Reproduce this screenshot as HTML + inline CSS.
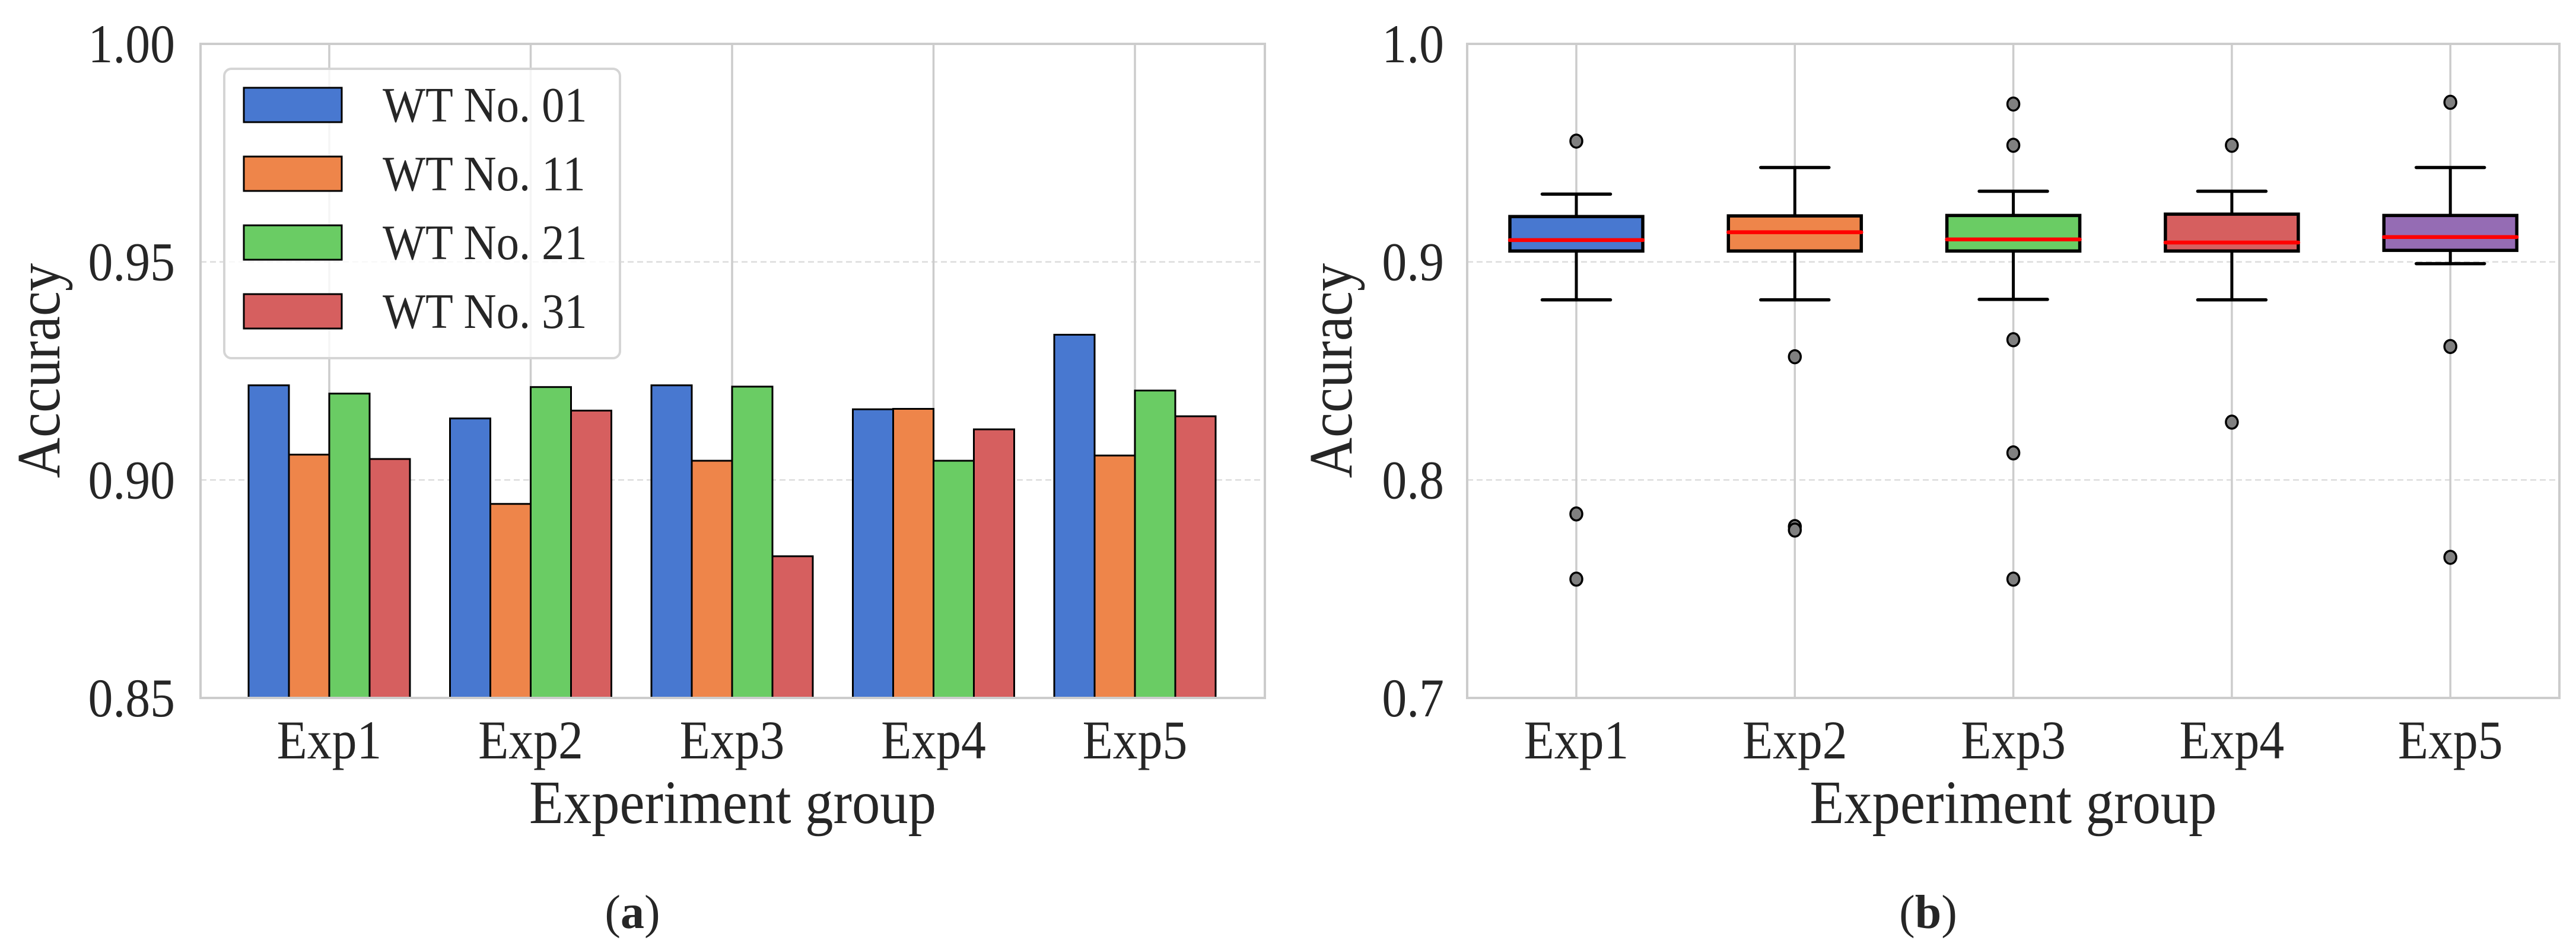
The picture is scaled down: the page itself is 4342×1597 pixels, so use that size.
<!DOCTYPE html>
<html><head><meta charset="utf-8"><style>
html,body{margin:0;padding:0;background:#fff;}
svg{display:block;}
text{font-family:"Liberation Serif",serif;fill:#262626;}
</style></head><body>
<svg id="fig" width="4342" height="1597" viewBox="0 0 4342 1597" xmlns="http://www.w3.org/2000/svg">
<g id="pa"></g>
<g id="pb"></g>
</svg>
<script>
// ---- Panel (a) data ----
const categories = ["Exp1","Exp2","Exp3","Exp4","Exp5"];
const seriesNames = ["WT No. 01","WT No. 11","WT No. 21","WT No. 31"];
const wt01 = [0.9217,0.9141,0.9217,0.9162,0.9333];
const wt11 = [0.9058,0.8945,0.9044,0.9163,0.9056];
const wt21 = [0.9198,0.9213,0.9214,0.9044,0.9205];
const wt31 = [0.9048,0.9159,0.8825,0.9116,0.9146];
const barTicks = [0.85,0.90,0.95,1.00];
const barTickLabels = ["0.85","0.90","0.95","1.00"];
// ---- Panel (b) data ----
const boxQ1 = [0.9050,0.9050,0.9050,0.9050,0.9053];
const boxQ3 = [0.9208,0.9211,0.9213,0.9219,0.9213];
const boxMedian = [0.9100,0.9136,0.9103,0.9089,0.9114];
const whiskerLow = [0.8826,0.8826,0.8828,0.8826,0.8992];
const whiskerHigh = [0.9311,0.9433,0.9324,0.9324,0.9433];
const fliers1 = [0.9554,0.7844,0.7545];
const fliers2 = [0.8565,0.7786,0.7770];
const fliers3 = [0.9724,0.9535,0.8643,0.8124,0.7545];
const fliers4 = [0.9535,0.8265];
const fliers5 = [0.9732,0.8612,0.7645];
const boxTicks = [0.7,0.8,0.9,1.0];
const boxTickLabels = ["0.7","0.8","0.9","1.0"];

const NS="http://www.w3.org/2000/svg";
function mk(parent,tag,attrs,txt){const e=document.createElementNS(NS,tag);for(const k in attrs)e.setAttribute(k,attrs[k]);if(txt!==undefined)e.textContent=txt;parent.appendChild(e);return e;}
function tx(parent,x,y,size,anchor,txt,rot){
 const a={x:0,y:0,'font-size':size,'text-anchor':anchor,transform:'translate('+x+','+y+')'+(rot?' rotate(-90)':'')+' scale(0.91,1)'};
 return mk(parent,'text',a,txt);
}
const colors=["#4878d0","#ee854a","#6acc64","#d65f5f","#956cb4"];
const TOP=74,BOT=1177;

// ===== Panel A =====
const pa=document.getElementById('pa');
const aL=338,aR=2132;
const yA=v=>BOT-(v-0.85)/0.15*(BOT-TOP);
const xA=i=>555+i*339.5;
const bw=68;
barTicks.forEach((t,i)=>{
 if(i>0&&i<barTicks.length-1){const g=mk(pa,'line',{x1:aL,x2:aR,y1:yA(t),y2:yA(t),stroke:'#dcdcdc','stroke-width':2.5,'stroke-dasharray':'10,6'});
 
 }
 const l=tx(pa,295,yA(t)+31,92,'end',barTickLabels[i]);
 
 
});
categories.forEach((c,i)=>{
 const g=mk(pa,'line',{x1:xA(i),x2:xA(i),y1:TOP,y2:BOT,stroke:'#cccccc','stroke-width':3.5});
 
 
 const l=tx(pa,xA(i),1279,92,'middle',c);
 
 
});
const series=[wt01,wt11,wt21,wt31];
series.forEach((s,j)=>{
 s.forEach((v,i)=>{
  const x=xA(i)+(j-2)*bw;
  const r=mk(pa,'rect',{x:x,y:yA(v),width:bw,height:BOT-yA(v),fill:colors[j],stroke:'#000','stroke-width':3});
  
  
 });
});
{const sp=mk(pa,'rect',{x:aL,y:TOP,width:aR-aL,height:BOT-TOP,fill:'none',stroke:'#cccccc','stroke-width':4});

}
{const lg=mk(pa,'g',{});


mk(lg,'rect',{x:378,y:116,width:667,height:488,rx:12,fill:'rgba(255,255,255,0.8)',stroke:'#d5d5d5','stroke-width':4});
seriesNames.forEach((n,j)=>{
 const cy=177+j*116;
 const p=mk(lg,'rect',{x:411,y:cy-29,width:165,height:58,fill:colors[j],stroke:'#000','stroke-width':3});
 
 
 const t=tx(lg,645,cy+28,84,'start',n);
 
 
});}
{const t=tx(pa,(aL+aR)/2,1388,104,'middle','Experiment group');


const y=tx(pa,100,625,104,'middle','Accuracy',true);


const c=mk(pa,'text',{x:1066,y:1565,'font-size':80,'text-anchor':'middle'});


c.innerHTML='(<tspan font-weight="bold">a</tspan>)';}

// ===== Panel B =====
const pb=document.getElementById('pb');
const bL=2473,bR=4314;
const yB=v=>BOT-(v-0.7)/0.3*(BOT-TOP);
const xB=i=>2657+i*368.3;
boxTicks.forEach((t,i)=>{
 if(i>0&&i<boxTicks.length-1){const g=mk(pb,'line',{x1:bL,x2:bR,y1:yB(t),y2:yB(t),stroke:'#dcdcdc','stroke-width':2.5,'stroke-dasharray':'10,6'});
 
 }
 const l=tx(pb,2434,yB(t)+31,92,'end',boxTickLabels[i]);
 
 
});
categories.forEach((c,i)=>{
 const g=mk(pb,'line',{x1:xB(i),x2:xB(i),y1:TOP,y2:BOT,stroke:'#cccccc','stroke-width':3.5});
 
 
 const l=tx(pb,xB(i),1279,92,'middle',c);
 
 
});
const fliers=[fliers1,fliers2,fliers3,fliers4,fliers5];
const boxW=224,capW=115;
categories.forEach((c,i)=>{
 const cx=xB(i);
 const g=mk(pb,'g',{});
 
 
 mk(g,'line',{x1:cx,x2:cx,y1:yB(boxQ3[i]),y2:yB(whiskerHigh[i]),stroke:'#000','stroke-width':5});
 mk(g,'line',{x1:cx,x2:cx,y1:yB(boxQ1[i]),y2:yB(whiskerLow[i]),stroke:'#000','stroke-width':5});
 mk(g,'line',{x1:cx-capW/2,x2:cx+capW/2,y1:yB(whiskerHigh[i]),y2:yB(whiskerHigh[i]),stroke:'#000','stroke-width':5.5,'stroke-linecap':'round'});
 mk(g,'line',{x1:cx-capW/2,x2:cx+capW/2,y1:yB(whiskerLow[i]),y2:yB(whiskerLow[i]),stroke:'#000','stroke-width':5.5,'stroke-linecap':'round'});
 mk(g,'rect',{x:cx-boxW/2,y:yB(boxQ3[i]),width:boxW,height:yB(boxQ1[i])-yB(boxQ3[i]),fill:colors[i],stroke:'#000','stroke-width':5.5});
 mk(g,'line',{x1:cx-boxW/2,x2:cx+boxW/2,y1:yB(boxMedian[i]),y2:yB(boxMedian[i]),stroke:'#ff0000','stroke-width':6.5,'stroke-linecap':'round'});
 fliers[i].forEach(v=>{
  const f=mk(pb,'ellipse',{cx:cx,cy:yB(v),rx:10,ry:11,fill:'#808080',stroke:'#000','stroke-width':3.5});
  
  
 });
});
{const sp=mk(pb,'rect',{x:bL,y:TOP,width:bR-bL,height:BOT-TOP,fill:'none',stroke:'#cccccc','stroke-width':4});


const t=tx(pb,(bL+bR)/2,1388,104,'middle','Experiment group');


const y=tx(pb,2278,625,104,'middle','Accuracy',true);


const c=mk(pb,'text',{x:3250,y:1565,'font-size':80,'text-anchor':'middle'});


c.innerHTML='(<tspan font-weight="bold">b</tspan>)';}
</script>
</body></html>
